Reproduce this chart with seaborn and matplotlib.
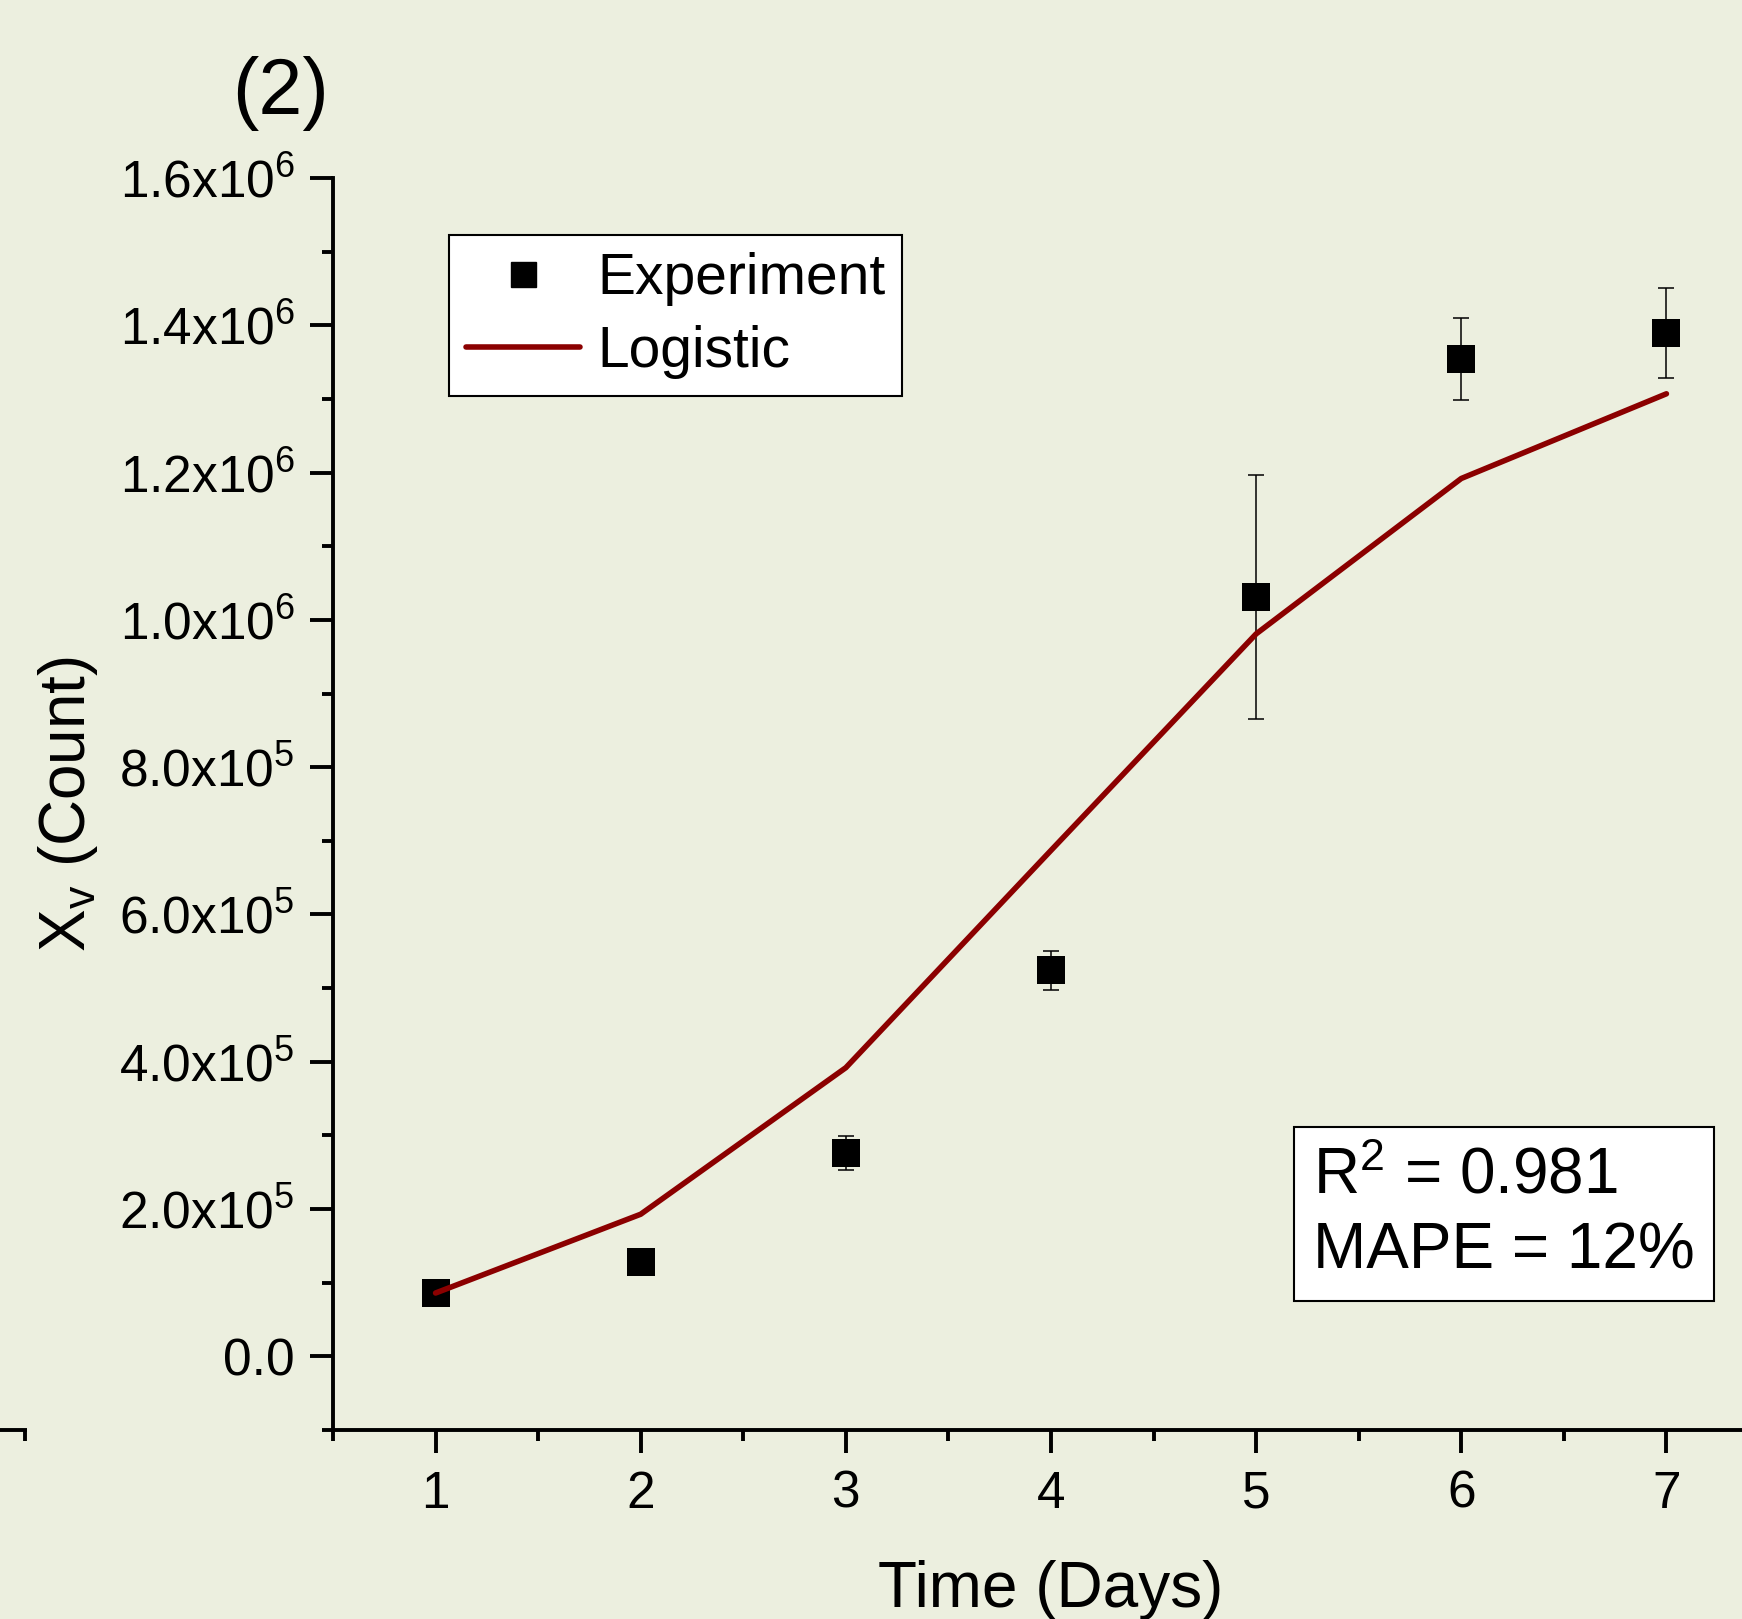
import matplotlib
matplotlib.use('Agg')
import matplotlib.pyplot as plt
import seaborn as sns
import pandas as pd
from matplotlib.lines import Line2D
from matplotlib.ticker import FixedLocator, MultipleLocator

# ---- data ----
days = [1, 2, 3, 4, 5, 6, 7]
exp_mean = [86000, 128000, 276000, 524000, 1031000, 1354000, 1389000]
exp_err = [5000, 5000, 23000, 26000, 166000, 56000, 61000]
logistic = [86000, 193000, 392000, 687000, 981000, 1192000, 1307000]
ytick_vals = [0, 2e5, 4e5, 6e5, 8e5, 1.0e6, 1.2e6, 1.4e6, 1.6e6]
ytick_labels = ['0.0', '2.0x10$^{5}$', '4.0x10$^{5}$', '6.0x10$^{5}$', '8.0x10$^{5}$',
                '1.0x10$^{6}$', '1.2x10$^{6}$', '1.4x10$^{6}$', '1.6x10$^{6}$']
xtick_vals = [1, 2, 3, 4, 5, 6, 7]
panel_label = '(2)'
stats_text = 'R$^{2}$ = 0.981\nMAPE = 12%'

df_exp = pd.DataFrame({'day': days, 'val': exp_mean, 'err': exp_err})
df_fit = pd.DataFrame({'day': days, 'val': logistic})

BG = '#ECEFDF'
W, H = 1742, 1619

sns.set_theme(style='ticks')
plt.rcParams['font.family'] = ['Liberation Sans', 'DejaVu Sans']
plt.rcParams['mathtext.fontset'] = 'custom'
plt.rcParams['mathtext.rm'] = 'Liberation Sans'
plt.rcParams['mathtext.it'] = 'Liberation Sans:italic'
plt.rcParams['mathtext.bf'] = 'Liberation Sans:bold'
plt.rcParams['text.color'] = 'black'
plt.rcParams['axes.labelcolor'] = 'black'
plt.rcParams['xtick.color'] = 'black'
plt.rcParams['ytick.color'] = 'black'

fig = plt.figure(figsize=(W / 100, H / 100), dpi=100, facecolor=BG)
ax = fig.add_axes([333 / W, 1 - 1430 / H, (1769 - 333) / W, (1430 - 178) / H])
ax.set_facecolor(BG)

ax.errorbar(df_exp['day'], df_exp['val'], yerr=df_exp['err'], fmt='none',
            ecolor='black', elinewidth=1.1, capsize=6, capthick=1.1, zorder=2)
sns.scatterplot(data=df_exp, x='day', y='val', marker='s', s=380, color='black',
                edgecolor='black', linewidth=0, ax=ax, zorder=3, label='Experiment',
                legend=False)
sns.lineplot(data=df_fit, x='day', y='val', color='#8B0000', linewidth=4.0, ax=ax,
             zorder=4, legend=False)

ax.set_xlim(0.5, 7.5)
ax.set_ylim(-1e5, 1.6e6)
ax.xaxis.set_major_locator(FixedLocator(xtick_vals))
ax.xaxis.set_minor_locator(MultipleLocator(0.5))
ax.yaxis.set_major_locator(FixedLocator(ytick_vals))
ax.yaxis.set_minor_locator(MultipleLocator(1e5))
ax.set_yticklabels(ytick_labels)
ax.set_xticklabels([str(v) for v in xtick_vals])

for s in ['top', 'right']:
    ax.spines[s].set_visible(False)
for s in ['left', 'bottom']:
    ax.spines[s].set_linewidth(2.8)
    ax.spines[s].set_color('black')

ax.tick_params(axis='both', which='major', direction='out', length=16.5, width=2.8,
               labelsize=37, color='black', labelcolor='black')
ax.tick_params(axis='both', which='minor', direction='out', length=8, width=2.8,
               color='black')
ax.tick_params(axis='y', which='major', pad=11)
ax.tick_params(axis='x', which='major', pad=12)

ax.set_xlabel('Time (Days)', fontsize=46, labelpad=30, color='black')
ax.set_ylabel('X$_{\\mathrm{v}}$ (Count)', fontsize=46, labelpad=14, color='black')

handles = [Line2D([], [], marker='s', linestyle='none', color='black', markersize=18),
           Line2D([], [], color='#8B0000', linewidth=4.0)]
leg = ax.legend(handles, ['Experiment', 'Logistic'], loc='upper left',
                bbox_to_anchor=(449 / W, 1 - 235 / H), bbox_transform=fig.transFigure,
                borderaxespad=0, fontsize=41, frameon=True, fancybox=False,
                edgecolor='black', facecolor='white', framealpha=1,
                handlelength=2.0, handletextpad=0.3, borderpad=0.3,
                labelspacing=0.33)
leg.get_frame().set_linewidth(1.5)
for t in leg.get_texts():
    t.set_color('black')

fig.text(1313 / W, 1 - 1214 / H, stats_text, fontsize=46, ha='left', va='center',
         linespacing=1.32,
         bbox=dict(boxstyle='square,pad=0.3', facecolor='white', edgecolor='black',
                   linewidth=1.5))

fig.text(280 / W, 1 - 114 / H, panel_label, fontsize=57, ha='center', va='baseline')

# fragment of neighbouring panel's axis at left edge
yb = 1 - 1430 / H
fig.add_artist(Line2D([0, 27 / W], [yb, yb], transform=fig.transFigure,
                      color='black', linewidth=2.8, solid_capstyle='butt'))
fig.add_artist(Line2D([25 / W, 25 / W], [yb, 1 - 1441 / H], transform=fig.transFigure,
                      color='black', linewidth=2.8, solid_capstyle='butt'))

fig.savefig('out.png', dpi=100, facecolor=BG)
